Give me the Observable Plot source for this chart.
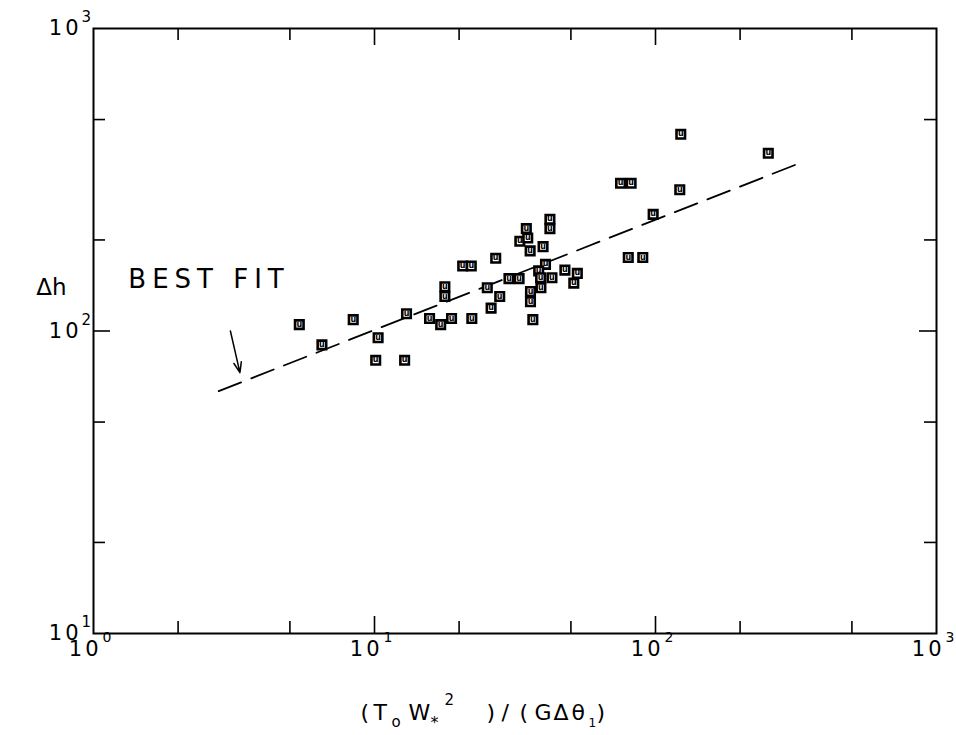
<!DOCTYPE html>
<html>
<head>
<meta charset="utf-8">
<script src="https://cdn.jsdelivr.net/npm/d3@7"></script>
<script src="https://cdn.jsdelivr.net/npm/@observablehq/plot@0.6"></script>
<style>
  html, body { margin: 0; padding: 0; background: #fff; }
</style>
</head>
<body>
<div id="chart"></div>
<script>
// ---- data (log-log) ----
const ratio = [5.4, 6.5, 8.4, 10.3, 10.1, 12.8, 13.0, 15.7, 17.2, 17.8, 17.8, 18.8, 20.6, 22.1, 22.2,
  25.2, 26.0, 27.9, 27.0, 30.1, 32.7, 32.9, 34.7, 35.1, 35.8, 35.9, 35.9, 36.6, 39.8, 40.6,
  38.4, 39.0, 42.8, 39.1, 42.1, 42.1, 47.6, 52.7, 51.2, 75.1, 81.9, 80.0, 90.1, 98.1, 123, 122, 252];
const dh = [105, 90, 109, 95, 80, 80, 114, 110, 105, 140, 130, 110, 164, 164, 110,
  139, 119, 130, 174, 149, 149, 198, 218, 203, 184, 135, 125, 109, 190, 166,
  158, 150, 150, 139, 234, 218, 159, 155, 144, 308, 308, 175, 175, 243, 447, 293, 387];

const fitX = [2.79, 319];
const fitY = [63.3, 356];

const arrowFrom = [3.07, 100];
const arrowTo = [3.32, 72.8];
const bestFitText = "BEST FIT";
const bestFitPos = [1.33, 148];

const xDecades = [1, 10, 100, 1000];
const xExponents = ["0", "1", "2", "3"];
const yDecades = [10, 100, 1000];
const yExponents = ["1", "2", "3"];
const xMinor = [2, 5, 20, 50, 200, 500];
const xMajorInner = [10, 100];
const yMinor = [20, 50, 200, 500];
const yMajorInner = [100];
const yTitle = "Δh";
// x title glyphs: main, subscript, superscript parts
const xTitleGlyphs = ["(", "T", "o", "W", "*", "2", ")", "/", "(", "G", "Δ", "θ", "1", ")"];
const xTitleRoles  = ["n", "n", "sub", "n", "star", "sup", "n", "n", "n", "n", "n", "n", "sub1", "n"];

// ---- layout ----
const W = 956, H = 735;
const mL = 93, mR = 20, mT = 28, mB = 102;
const iw = W - mL - mR, ih = H - mT - mB;
const minorLen = 12, majorLen = 17;
const font = "DejaVu Sans";

const pts = ratio.map((x, i) => ({x, y: dh[i]}));
const fit = fitX.map((x, i) => ({x, y: fitY[i]}));

// horizontal pixel placement for the x title glyphs (layout only)
const xTitleLeft = [360, 373, 391, 408, 430, 444, 486, 501, 519, 534, 553, 571, 588, 596];
const roleStyle = {
  n:    {fs: 22, dy: 86},
  sub:  {fs: 15, dy: 93},
  star: {fs: 16, dy: 94},
  sup:  {fs: 15, dy: 71},
  sub1: {fs: 12, dy: 93}
};
const titleMarks = xTitleGlyphs.map((g, i) => {
  const st = roleStyle[xTitleRoles[i]];
  return Plot.text([g], {frameAnchor: "bottom-left", text: d => d, textAnchor: "start",
    dx: xTitleLeft[i] - mL, dy: st.dy, fontSize: st.fs, fill: "black"});
});

const tickStyle = {stroke: "black", strokeWidth: 1.6};

const chart = Plot.plot({
  width: W, height: H,
  marginLeft: mL, marginRight: mR, marginTop: mT, marginBottom: mB,
  x: {type: "log", domain: [1, 1000], axis: null},
  y: {type: "log", domain: [10, 1000], axis: null},
  style: {fontFamily: font, background: "white", color: "black"},
  marks: [
    Plot.frame({stroke: "black", strokeWidth: 2}),
    // bottom ticks
    Plot.tickX(xMinor, {x: d => d, insetTop: ih - minorLen, ...tickStyle}),
    Plot.tickX(xMajorInner, {x: d => d, insetTop: ih - majorLen, ...tickStyle}),
    // top ticks
    Plot.tickX(xMinor, {x: d => d, insetBottom: ih - minorLen, ...tickStyle}),
    Plot.tickX(xMajorInner, {x: d => d, insetBottom: ih - majorLen, ...tickStyle}),
    // left ticks
    Plot.tickY(yMinor, {y: d => d, insetRight: iw - minorLen, ...tickStyle}),
    Plot.tickY(yMajorInner, {y: d => d, insetRight: iw - majorLen, ...tickStyle}),
    // right ticks
    Plot.tickY(yMinor, {y: d => d, insetLeft: iw - minorLen, ...tickStyle}),
    Plot.tickY(yMajorInner, {y: d => d, insetLeft: iw - majorLen, ...tickStyle}),
    // x tick labels
    Plot.text(xDecades, {x: d => d, frameAnchor: "bottom", text: () => "10", textAnchor: "end",
      dx: 8, dy: 22, fontSize: 21, fill: "black"}),
    Plot.text(xDecades, {x: d => d, frameAnchor: "bottom", text: (d, i) => xExponents[i], textAnchor: "start",
      dx: 9, dy: 8, fontSize: 14, fill: "black"}),
    // y tick labels
    Plot.text(yDecades, {y: d => d, frameAnchor: "left", text: () => "10", textAnchor: "end",
      dx: -12, dy: 0, fontSize: 21, fill: "black"}),
    Plot.text(yDecades, {y: d => d, frameAnchor: "left", text: (d, i) => yExponents[i], textAnchor: "start",
      dx: -12, dy: -11, fontSize: 15, fill: "black"}),
    // y title
    Plot.text([yTitle], {frameAnchor: "left", text: d => d, dx: -42, dy: -43, fontSize: 23,
      textAnchor: "middle", fill: "black"}),
    // x title
    ...titleMarks,
    // best fit line
    Plot.line(fit, {x: "x", y: "y", stroke: "black", strokeWidth: 1.8, strokeDasharray: "24,11"}),
    // annotation
    Plot.text([bestFitText], {x: () => bestFitPos[0], y: () => bestFitPos[1], text: d => d,
      textAnchor: "start", fontSize: 26, fill: "black"}),
    Plot.arrow([0], {x1: () => arrowFrom[0], y1: () => arrowFrom[1], x2: () => arrowTo[0], y2: () => arrowTo[1],
      stroke: "black", strokeWidth: 1.5, headLength: 11, headAngle: 40}),
    // data points
    Plot.dot(pts, {x: "x", y: "y", symbol: "square", r: 4.8, stroke: "black", strokeWidth: 2.6, fill: "white"}),
    Plot.text(pts, {x: "x", y: "y", text: () => "u", fontSize: 8, fontWeight: "bold", fill: "black", dy: -0.5})
  ]
});

// widen the plotter-style lettering
const svg = d3.select(chart);
svg.selectAll("text")
  .filter(function () { return this.textContent === bestFitText; })
  .style("letter-spacing", "6px");
svg.selectAll("text")
  .filter(function () { return this.textContent === "10"; })
  .style("letter-spacing", "3px");

document.getElementById("chart").appendChild(chart);
</script>
</body>
</html>
